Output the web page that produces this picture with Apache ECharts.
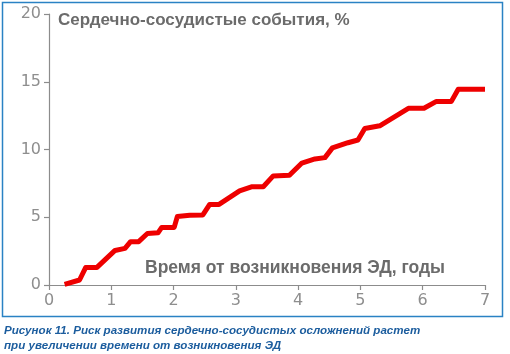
<!DOCTYPE html>
<html>
<head>
<meta charset="utf-8">
<script src="https://cdn.jsdelivr.net/npm/echarts@6/dist/echarts.min.js"></script>
<style>
  html, body { margin: 0; padding: 0; background: #fff; }
  #main { width: 510px; height: 354px; }
</style>
</head>
<body>
<div id="main"></div>
<script>
var chartDom = document.getElementById('main');
var myChart = echarts.init(chartDom);
var option;

// годы от возникновения ЭД
var years = [0.25, 0.49, 0.59, 0.77, 1.06, 1.22, 1.31, 1.44, 1.58, 1.75, 1.81, 2.01,
    2.06, 2.26, 2.47, 2.58, 2.73, 3.06, 3.25, 3.44, 3.6, 3.86, 4.06, 4.27, 4.43,
    4.55, 4.8, 4.96, 5.07, 5.31, 5.77, 6.02, 6.22, 6.46, 6.57, 7.0];
// сердечно-сосудистые события, %
var events = [0.05, 0.37, 1.3, 1.3, 2.55, 2.7, 3.2, 3.2, 3.8, 3.85, 4.25, 4.25,
    5.05, 5.15, 5.17, 5.95, 5.95, 6.95, 7.25, 7.25, 8.05, 8.1, 9.0, 9.3, 9.4,
    10.12, 10.5, 10.7, 11.55, 11.75, 13.04, 13.04, 13.55, 13.55, 14.45, 14.45];

var yTitle = 'Сердечно-сосудистые события, %';
var xTitle = 'Время от возникновения ЭД, годы';
var caption1 = 'Рисунок 11. Риск развития сердечно-сосудистых осложнений растет';
var caption2 = 'при увеличении времени от возникновения ЭД';

var points = years.map(function (x, i) { return [x, events[i]]; });

var axisGray = '#8c8c8c';
var textGray = '#6b6b6b';

option = {
    animation: false,
    grid: {left: 49, right: 25, top: 14, bottom: 69},
    xAxis: {
        type: 'value',
        min: 0, max: 7, interval: 1,
        splitLine: {show: false},
        axisLine: {lineStyle: {color: axisGray, width: 1.2}},
        axisTick: {show: true, length: 5, lineStyle: {color: axisGray, width: 1.2}},
        axisLabel: {color: '#8e8e8e', fontSize: 16, fontFamily: 'DejaVu Sans', margin: 8}
    },
    yAxis: {
        type: 'value',
        min: 0, max: 20, interval: 5,
        splitLine: {show: false},
        axisLine: {show: true, lineStyle: {color: axisGray, width: 1.2}},
        axisTick: {show: true, length: 5, lineStyle: {color: axisGray, width: 1.2}},
        axisLabel: {color: '#8e8e8e', fontSize: 16, fontFamily: 'DejaVu Sans', margin: 8}
    },
    series: [{
        type: 'line',
        data: points,
        symbol: 'none',
        lineStyle: {color: '#ee0000', width: 5, join: 'round'}
    }],
    graphic: {
        elements: [
            {
                type: 'rect',
                shape: {x: 2.5, y: 2.5, width: 500, height: 314},
                style: {fill: 'none', stroke: '#2a82c4', lineWidth: 1.5},
                silent: true
            },
            {
                type: 'text', left: 58, top: 12,
                style: {text: yTitle, fill: textGray, font: 'bold 17px "Liberation Sans"'}
            },
            {
                type: 'text', left: 145, top: 259,
                style: {text: xTitle, fill: textGray, font: 'bold 17.5px "Liberation Sans"'}
            },
            {
                type: 'text', left: 4, top: 325,
                style: {text: caption1, fill: '#1c5d9e', font: 'italic bold 11.6px "Liberation Sans"'}
            },
            {
                type: 'text', left: 4, top: 340,
                style: {text: caption2, fill: '#1c5d9e', font: 'italic bold 11.6px "Liberation Sans"'}
            }
        ]
    }
};

option && myChart.setOption(option);
</script>
</body>
</html>
